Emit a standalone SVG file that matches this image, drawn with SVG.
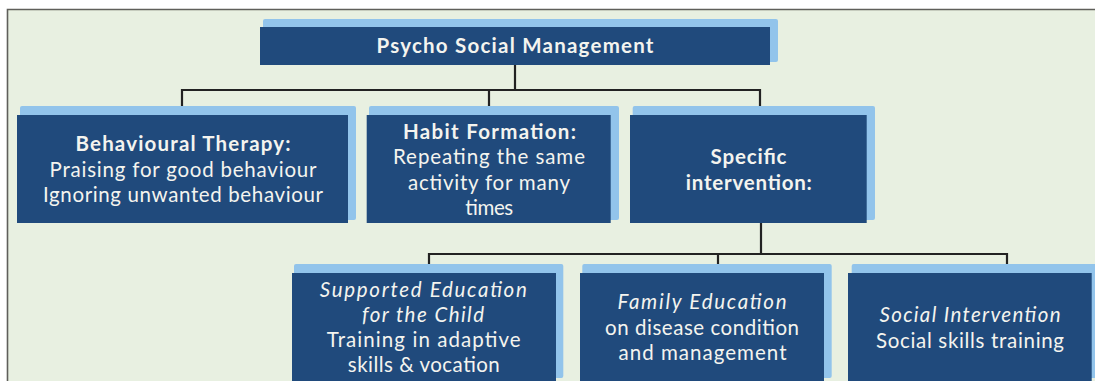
<svg xmlns="http://www.w3.org/2000/svg" width="1095" height="381" viewBox="0 0 1095 381">
<style>
.sh{fill:#92c4eb}
.bx{fill:#204a7c}
text{font-family:Lato,"Open Sans",sans-serif;font-size:20.5px;fill:#f4f4ef;text-anchor:middle}
.b{font-weight:bold}
.i{font-style:italic}
.c{fill:none;stroke:#222;stroke-width:2.2}
</style>
<rect x="0" y="0" width="1095" height="381" fill="#ffffff"/>
<rect x="7.5" y="9.5" width="1095" height="380" fill="#e8f0e1"/>
<path d="M7.5 381 V9.5 H1095" fill="none" stroke="#5f5f5a" stroke-width="1.6"/>
<g id="connectors">
<path class="c" d="M515 65 V90 M182 107 V90 H760 V107 M489 90 V107"/>
<path class="c" d="M761 223 V254 M429 271 V254 H1007 V271 M718 254 V271"/>
</g>
<g id="n-root">
<rect class="sh" x="263" y="19" width="515" height="43" rx="2"/>
<rect class="bx" x="260" y="27" width="510" height="38"/>
<text class="b" x="515" y="53" textLength="277" lengthAdjust="spacing">Psycho Social Management</text>
</g>
<g id="n-behav">
<rect class="sh" x="20" y="106" width="336" height="114" rx="2"/>
<rect class="bx" x="17" y="115" width="331" height="108"/>
<text class="b" x="183" y="151" textLength="215" lengthAdjust="spacing">Behavioural Therapy:</text>
<text x="183" y="177" textLength="267" lengthAdjust="spacing">Praising for good behaviour</text>
<text x="183" y="202" textLength="280" lengthAdjust="spacing">Ignoring unwanted behaviour</text>
</g>
<g id="n-habit">
<rect class="sh" x="369" y="106" width="250" height="114" rx="2"/>
<rect class="bx" x="366.7" y="115" width="244" height="108"/>
<text class="b" x="489.5" y="138.5" textLength="173" lengthAdjust="spacing">Habit Formation:</text>
<text x="489" y="164" textLength="192" lengthAdjust="spacing">Repeating the same</text>
<text x="489" y="189.5" textLength="162" lengthAdjust="spacing">activity for many</text>
<text x="489" y="215" textLength="48" lengthAdjust="spacing">times</text>
</g>
<g id="n-specific">
<rect class="sh" x="632.7" y="106" width="242.3" height="114" rx="2"/>
<rect class="bx" x="630" y="115" width="236.7" height="108"/>
<text class="b" x="748.5" y="164" textLength="76" lengthAdjust="spacing">Specific</text>
<text class="b" x="748.8" y="189.5" textLength="126" lengthAdjust="spacing">intervention:</text>
</g>
<g id="n-supported">
<rect class="sh" x="294" y="264" width="269.3" height="114" rx="2"/>
<rect class="bx" x="292" y="273" width="264" height="112"/>
<text class="i" x="423.3" y="296.5" textLength="207" lengthAdjust="spacing">Supported Education</text>
<text class="i" x="423" y="321.5" textLength="122" lengthAdjust="spacing">for the Child</text>
<text x="423.7" y="347" textLength="194" lengthAdjust="spacing">Training in adaptive</text>
<text x="423.8" y="372" textLength="152" lengthAdjust="spacing">skills &amp; vocation</text>
</g>
<g id="n-family">
<rect class="sh" x="582.3" y="264" width="249.4" height="114" rx="2"/>
<rect class="bx" x="580" y="273" width="244" height="112"/>
<text class="i" x="702" y="309" textLength="169" lengthAdjust="spacing">Family Education</text>
<text x="702" y="334.5" textLength="194" lengthAdjust="spacing">on disease condition</text>
<text x="702.5" y="359.5" textLength="168" lengthAdjust="spacing">and management</text>
</g>
<g id="n-social">
<rect class="sh" x="851.7" y="264" width="250" height="114" rx="2"/>
<rect class="bx" x="848" y="273" width="243.7" height="112"/>
<text class="i" x="970" y="322" textLength="181" lengthAdjust="spacing">Social Intervention</text>
<text x="970" y="347.5" textLength="188" lengthAdjust="spacing">Social skills training</text>
</g>
</svg>
